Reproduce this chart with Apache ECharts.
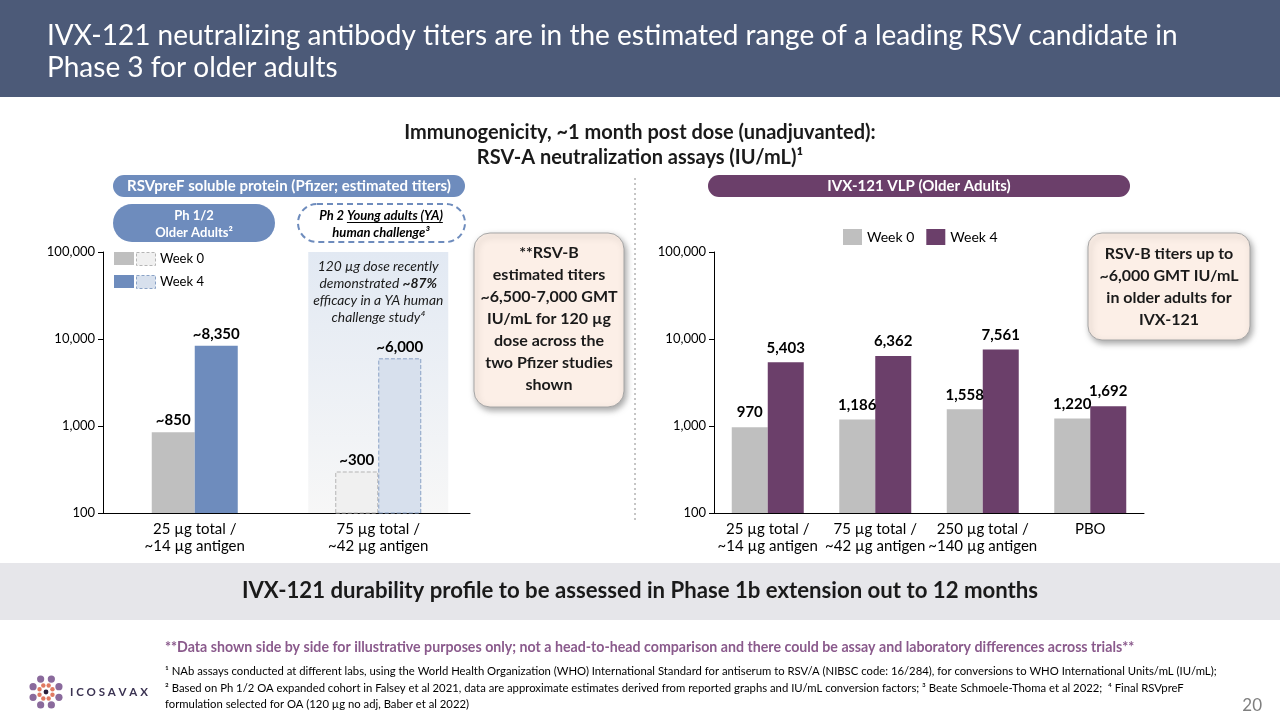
<!DOCTYPE html>
<html><head><meta charset="utf-8">
<script src="https://cdn.jsdelivr.net/npm/echarts@6/dist/echarts.min.js"></script>
<style>html,body{margin:0;padding:0;background:#fff}#c{width:1280px;height:720px}</style>
</head><body><div id="c"></div>
<script>
const pfizerCategories = ['25 µg total /\n~14 µg antigen', '75 µg total /\n~42 µg antigen'];
const pfizerWeek0 = [850, 300];
const pfizerWeek4 = [8350, 6000];
const ivxCategories = ['25 µg total /\n~14 µg antigen', '75 µg total /\n~42 µg antigen', '250 µg total /\n~140 µg antigen', 'PBO'];
const ivxWeek0 = [970, 1186, 1558, 1220];
const ivxWeek4 = [5403, 6362, 7561, 1692];
const seriesNames = ['Week 0', 'Week 4'];

const FF = 'Lato';
const BLUE = '#6e8cbd', GRAY = '#bfbfbf', PURPLE = '#6b3f6a';
const fmt = v => Number(v).toLocaleString('en-US');

const chart = echarts.init(document.getElementById('c'), null, {renderer: 'canvas'});

function yAxis(gi) {
  return {
    type: 'log', logBase: 10, gridIndex: gi, min: 100, max: 100000,
    splitLine: {show: false},
    axisLine: {show: true, lineStyle: {color: '#000', width: 1}},
    axisTick: {show: true, length: 5, lineStyle: {color: '#000'}},
    axisLabel: {formatter: v => fmt(v), fontSize: 13, color: '#000', fontFamily: FF, margin: 8}
  };
}
function xAxis(gi, data) {
  return {
    type: 'category', gridIndex: gi, data: data,
    axisLine: {lineStyle: {color: '#000', width: 1}},
    axisTick: {show: false},
    axisLabel: {interval: 0, fontSize: 15, color: '#000', fontFamily: FF, lineHeight: 17, margin: 8}
  };
}
const lbl = (pre, dist) => ({
  show: true, position: 'top', distance: dist, fontSize: 15, fontWeight: 'bold', color: '#000', fontFamily: FF,
  formatter: p => pre + fmt(p.value)
});

const option = {
  animation: false,
  textStyle: {fontFamily: FF},
  grid: [
    {left: 103, top: 252, width: 367, height: 261},
    {left: 714, top: 252, width: 430, height: 261}
  ],
  xAxis: [xAxis(0, pfizerCategories), xAxis(1, ivxCategories)],
  yAxis: [yAxis(0), yAxis(1)],
  legend: {
    data: seriesNames, left: 838, top: 224, icon: 'rect', itemWidth: 19, itemHeight: 16, itemGap: 12,
    textStyle: {fontSize: 14, color: '#000', fontFamily: FF}, selectedMode: false
  },
  series: [
    {
      name: 'Pfizer ' + seriesNames[0], type: 'bar', xAxisIndex: 0, yAxisIndex: 0, barWidth: 43, barGap: '0%', z: 3,
      itemStyle: {color: GRAY},
      data: pfizerWeek0.map((v, i) => i === 1 ? {value: v, itemStyle: {color: '#f0f0f0', borderColor: '#b5b5b5', borderType: 'dashed', borderWidth: 1}} : v),
      label: lbl('~', 4)
    },
    {
      name: 'Pfizer ' + seriesNames[1], type: 'bar', xAxisIndex: 0, yAxisIndex: 0, barWidth: 43, barGap: '0%', z: 3,
      itemStyle: {color: BLUE},
      data: pfizerWeek4.map((v, i) => i === 1 ? {value: v, itemStyle: {color: '#d7e0ed', borderColor: '#8aa2c6', borderType: 'dashed', borderWidth: 1}} : v),
      label: lbl('~', 4)
    },
    {
      name: seriesNames[0], type: 'bar', xAxisIndex: 1, yAxisIndex: 1, barWidth: 36, barGap: '0%',
      itemStyle: {color: GRAY}, data: ivxWeek0, label: lbl('', 7)
    },
    {
      name: seriesNames[1], type: 'bar', xAxisIndex: 1, yAxisIndex: 1, barWidth: 36, barGap: '0%',
      itemStyle: {color: PURPLE}, data: ivxWeek4, label: lbl('', 7)
    }
  ]
};
chart.setOption(option);

const ctx = document.createElement('canvas').getContext('2d');
function tw(text, font) { ctx.font = font; return ctx.measureText(text).width; }

const cx = chart.convertToPixel({xAxisIndex: 0}, pfizerCategories[1]);
const yTop = chart.convertToPixel({yAxisIndex: 0}, 100000);
const yBot = chart.convertToPixel({yAxisIndex: 0}, 100);

function T(x, y, text, o) {
  o = o || {};
  return {type: 'text', x: x, y: y, z: 10, style: Object.assign({
    text: text, fill: '#000', fontFamily: FF, fontSize: 14, align: 'left', verticalAlign: 'middle'
  }, o)};
}
function R(x, y, w, h, r, style, z) {
  return {type: 'rect', z: z === undefined ? 5 : z, shape: {x: x, y: y, width: w, height: h, r: r || 0}, style: style};
}

const g = [];
g.push(R(0, 0, 1280, 97, 0, {fill: '#4c5a78'}));
g.push(T(47, 36, 'IVX-121 neutralizing antibody titers are in the estimated range of a leading RSV candidate in', {fill: '#fff', fontSize: 28}));
g.push(T(47, 68, 'Phase 3 for older adults', {fill: '#fff', fontSize: 28}));

g.push(T(640, 133, 'Immunogenicity, ~1 month post dose (unadjuvanted):', {fill: '#1a1a1a', fontSize: 20, fontWeight: 'bold', align: 'center'}));
g.push(T(640, 158, 'RSV-A neutralization assays (IU/mL)¹', {fill: '#1a1a1a', fontSize: 20, fontWeight: 'bold', align: 'center'}));

g.push(R(113, 175, 352, 22, 11, {fill: BLUE}));
g.push(T(289, 186, 'RSVpreF soluble protein (Pfizer; estimated titers)', {fill: '#fff', fontSize: 15, fontWeight: 'bold', align: 'center'}));
g.push(R(708, 175, 422, 22, 11, {fill: PURPLE}));
g.push(T(919, 186, 'IVX-121 VLP (Older Adults)', {fill: '#fff', fontSize: 15, fontWeight: 'bold', align: 'center'}));

g.push(R(113, 204, 162, 38, 19, {fill: BLUE}));
g.push(T(194, 224, 'Ph 1/2\nOlder Adults²', {fill: '#fff', fontSize: 13, fontWeight: 'bold', align: 'center', lineHeight: 17}));
g.push(R(298, 204, 167, 38, 19, {fill: 'none', stroke: BLUE, lineWidth: 2, lineDash: [6, 4]}));
g.push(T(381, 224, 'Ph 2 Young adults (YA)\nhuman challenge³', {fill: '#000', fontSize: 13, fontWeight: 'bold', fontStyle: 'italic', align: 'center', lineHeight: 17}));
{
  const f = 'italic bold 13px ' + FF;
  const full = tw('Ph 2 Young adults (YA)', f), pre = tw('Ph 2 ', f);
  const x0 = 381 - full / 2 + pre, x1 = 381 + full / 2;
  g.push({type: 'line', z: 10, shape: {x1: x0, y1: 222.5, x2: x1, y2: 222.5}, style: {stroke: '#000', lineWidth: 1}});
}

g.push({type: 'line', z: 5, shape: {x1: 635, y1: 178, x2: 635, y2: 520}, style: {stroke: '#8c8c8c', lineWidth: 1, lineDash: [2, 3]}});

g.push(R(114, 252, 20, 13, 0, {fill: GRAY}));
g.push(R(136.5, 252.5, 19, 13, 0, {fill: '#f0f0f0', stroke: '#b5b5b5', lineWidth: 1, lineDash: [3, 2]}));
g.push(T(160, 259, 'Week 0', {fontSize: 13}));
g.push(R(114, 275, 20, 13, 0, {fill: BLUE}));
g.push(R(136.5, 275.5, 19, 13, 0, {fill: '#d7e0ed', stroke: '#8aa2c6', lineWidth: 1, lineDash: [3, 2]}));
g.push(T(160, 282, 'Week 4', {fontSize: 13}));

g.push({type: 'rect', z: 0, shape: {x: cx - 70, y: yTop, width: 140, height: yBot - yTop},
  style: {fill: new echarts.graphic.LinearGradient(0, 0, 0, 1, [{offset: 0, color: '#e2e9f3'}, {offset: 1, color: '#f7f7f7'}])}});
g.push({type: 'text', z: 10, x: cx, y: 292, style: {
  text: '{i|120 µg dose recently}\n{i|demonstrated }{b|~87%}\n{i|efficacy in a YA human}\n{i|challenge study⁴}',
  align: 'center', verticalAlign: 'middle', fontFamily: FF, fontSize: 13.8, lineHeight: 17,
  rich: {
    i: {fontStyle: 'italic', fontSize: 13.8, fontFamily: FF, fill: '#1a1a1a', lineHeight: 17},
    b: {fontStyle: 'italic', fontWeight: 'bold', fontSize: 13.8, fontFamily: FF, fill: '#1a1a1a', lineHeight: 17}
  }
}});

const calloutStyle = {fill: '#fcefe7', stroke: '#a6a6a6', lineWidth: 1, shadowBlur: 6, shadowOffsetX: 2, shadowOffsetY: 3, shadowColor: 'rgba(0,0,0,0.35)'};
g.push(R(474, 233, 150, 174, 16, calloutStyle));
g.push(T(549, 319, '**RSV-B\nestimated titers\n~6,500-7,000 GMT\nIU/mL for 120 µg\ndose across the\ntwo Pfizer studies\nshown', {fontSize: 16, fontWeight: 'bold', align: 'center', lineHeight: 22, fill: '#1a1a1a'}));
g.push(R(1088, 233, 162, 107, 14, calloutStyle));
g.push(T(1169, 287, 'RSV-B titers up to\n~6,000 GMT IU/mL\nin older adults for\nIVX-121', {fontSize: 16, fontWeight: 'bold', align: 'center', lineHeight: 22, fill: '#1a1a1a'}));

g.push(R(0, 563, 1280, 57, 0, {fill: '#e6e6ea'}));
g.push(T(640, 591, 'IVX-121 durability profile to be assessed in Phase 1b extension out to 12 months', {fontSize: 22.2, fontWeight: 'bold', align: 'center', fill: '#1a1a1a'}));

g.push(T(165, 647, '**Data shown side by side for illustrative purposes only; not a head-to-head comparison and there could be assay and laboratory differences across trials**', {fontSize: 14.2, fontWeight: 'bold', fill: '#8a5a8c'}));
g.push(T(165, 671, '¹ NAb assays conducted at different labs, using the World Health Organization (WHO) International Standard for antiserum to RSV/A (NIBSC code: 16/284), for conversions to WHO International Units/mL (IU/mL);', {fontSize: 11.3}));
g.push(T(165, 688, '² Based on Ph 1/2 OA expanded cohort in Falsey et al 2021, data are approximate estimates derived from reported graphs and IU/mL conversion factors; ³ Beate Schmoele-Thoma et al 2022;  ⁴ Final RSVpreF', {fontSize: 11.3}));
g.push(T(165, 704, 'formulation selected for OA (120 µg no adj, Baber et al 2022)', {fontSize: 11.3}));
g.push(T(1262, 706, '20', {fontSize: 17, fill: '#7f7f7f', align: 'right'}));

{
  const lx = 46, ly = 692;
  for (let k = 0; k < 8; k++) {
    const a = k * Math.PI / 4 + Math.PI / 8;
    g.push({type: 'circle', z: 10, shape: {cx: lx + 14 * Math.cos(a), cy: ly + 14 * Math.sin(a), r: 3.6}, style: {fill: '#8a6a9c'}});
    g.push({type: 'circle', z: 10, shape: {cx: lx + 7 * Math.cos(a), cy: ly + 7 * Math.sin(a), r: 2.2}, style: {fill: '#e07a62'}});
  }
  g.push({type: 'circle', z: 10, shape: {cx: lx, cy: ly, r: 2.4}, style: {fill: '#2a1f3a'}});
  g.push(T(70, 692, 'I C O S A V A X', {fontSize: 11.5, fontWeight: 'bold', fill: '#3b3352'}));
}

chart.setOption({graphic: g});
</script>
</body></html>
